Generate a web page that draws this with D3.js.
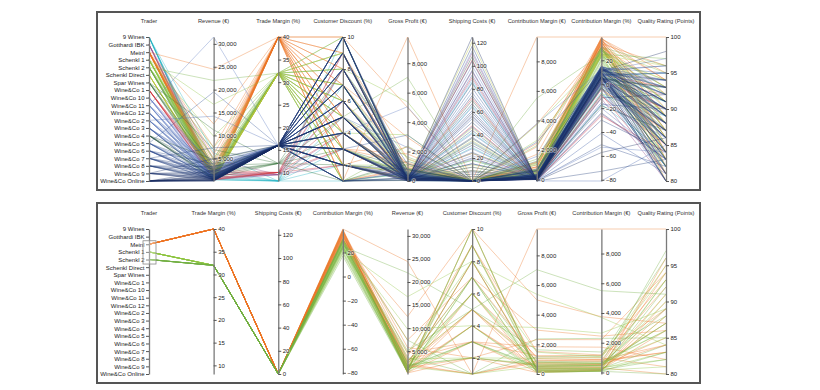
<!DOCTYPE html>
<html><head><meta charset="utf-8">
<script src="https://cdn.jsdelivr.net/npm/d3@7"></script>
<style>
body{margin:0;background:#fff;}
svg{display:block;font-family:"Liberation Sans",Arial,sans-serif;}
.axis text{font-size:6px;fill:#222;stroke:#fff;stroke-width:1.6px;stroke-opacity:.55;paint-order:stroke;}
.axis path{stroke:#7a7a7a;stroke-width:1.3px;}
.axis line{stroke:#555;}
.title{font-size:5.7px;fill:#333;text-anchor:middle;}
</style></head><body>
<svg id="chart" width="820" height="390"></svg>
<script>
// ---------- categories ----------
const traders = ["9 Wines","Gotthardi IBK","Meinl","Schenkl 1","Schenkl 2","Schenkl Direct","Spar Wines",
  "Wine&Co 1","Wine&Co 10","Wine&Co 11","Wine&Co 12","Wine&Co 2","Wine&Co 3","Wine&Co 4","Wine&Co 5",
  "Wine&Co 6","Wine&Co 7","Wine&Co 8","Wine&Co 9","Wine&Co Online"];
const traderColors = ["#1fb2c2","#8e3f86","#ec7424","#8dc43f","#72b043","#b7c63a","#2f6e34",
  "#cc2a36","#6d80c6","#5a78be","#4a68b2","#4f70b8","#3d5ca6","#23513d","#2f4f96",
  "#29468b","#233f80","#1f3976","#1b336c","#182d60"];
// trade margin (%) per trader
const traderMargin = [8.1,9.5,40,32,32,32,12,10,16,16,16,16,16,16,16,16,16,16,16,16];
const selectedTraders = ["Meinl","Schenkl 1","Schenkl 2"];

const dimTitles = {
  trader:"Trader", revenue:"Revenue (€)", tradeMargin:"Trade Margin (%)", discount:"Customer Discount (%)",
  grossProfit:"Gross Profit (€)", shipping:"Shipping Costs (€)", cmEur:"Contribution Margin (€)",
  cmPct:"Contribution Margin (%)", quality:"Quality Rating (Points)"
};
const topOrder = ["trader","revenue","tradeMargin","discount","grossProfit","shipping","cmEur","cmPct","quality"];
const bottomOrder = ["trader","tradeMargin","shipping","cmPct","revenue","discount","grossProfit","cmEur","quality"];

// ---------- records (one entry per sale), grouped by trader ----------
const rowTrader = [
  0,0,0,0,0,0,0,0, 1,1,1,1,1,1,
  2,2,2,2,2,2,2,2,2,2,2,2,2,2,2,2,2,2,2,2,2,2,2,2,
  3,3,3,3,3,3,3,3,3,3,3,3,3,3, 4,4,4,4,4,4,4,4,4,4,4,4,4,4,
  5,5,5,5,5,5,5,5, 6,6,6,6,6,6,6, 7,7,7,7,7,7,7,
  8,8,8,8,8,8,8, 9,9,9,9,9,9,9, 10,10,10,10,10,10,10, 11,11,11,11,11,11,11,
  12,12,12,12,12,12,12, 13,13,13,13,13,13,13, 14,14,14,14,14,14,14, 15,15,15,15,15,15,15,
  16,16,16,16,16,16,16, 17,17,17,17,17,17,17, 18,18,18,18,18,18,18,
  19,19,19,19,19,19,19,19,19,19,19,19,19,19];
const revenue = [
  420,1150,1900,2600,380,6200,760,240, 900,2150,310,4800,1500,560,
  2200,1400,3100,880,1650,420,2600,1150,3800,690,1900,260,4600,1250,530,2900,7400,980,1750,12500,340,2350,5800,24450,
  1600,950,2400,520,3300,1200,300,1850,4600,760,2100,9800,1350,16800,
  1900,700,2700,1100,3600,450,1450,5100,2500,880,7400,1650,22000,380,
  380,720,1250,260,540,950,180,610, 2200,3400,1300,6900,1800,11200,650, 420,1350,260,2400,780,1800,530,
  1400,640,2300,280,3500,950,520, 1700,410,4100,150,1100,31500,760, 1200,720,2100,330,2900,120,480,
  1550,560,3200,240,880,14200,1050, 2100,390,1150,180,2700,690,330, 1350,470,2450,210,4700,820,600,
  1850,530,2950,290,1050,19500,410, 1150,610,1950,160,3800,760,270, 1650,350,2650,230,1250,7300,820,
  1350,590,2250,140,3150,870,450, 2000,440,1500,200,4900,980,680,
  85,35,260,640,1400,180,2300,470,150,320,920,60,1150,540];
const discount = [
  3,5,2,7,10,1,4,8, 4,6,2,8,9,3,
  1,2,3,4,5,6,7,8,9,10,1,2,3,4,5,6,7,8,9,10,3,5,2,1,
  1,3,5,7,2,9,4,6,8,10,2,4,6,8, 2,4,6,8,1,10,3,5,7,9,1,3,5,7,
  2,5,3,7,4,6,9,1, 2,4,6,3,8,1,5, 3,6,9,2,5,4,8,
  2,5,8,4,1,10,6, 3,6,9,2,7,4,5, 1,4,10,8,5,3,7, 2,7,6,9,3,5,1,
  4,1,8,6,2,10,3, 5,3,7,1,9,4,2, 2,6,9,5,8,3,10, 3,10,5,7,1,4,9, 6,2,4,9,3,8,5,
  1,8,3,5,10,2,7, 5,4,7,3,2,9,6,
  6,2,8,3,10,4,5,1,7,9,2,5,3,10];
const grossProfit = [
  34,93,154,211,31,502,62,19, 86,204,29,456,143,53,
  880,560,1240,352,660,168,1040,460,1520,276,760,104,1840,500,212,1160,2960,392,700,5000,136,940,2320,9780,
  512,304,768,166,1056,384,96,592,1472,243,672,3136,432,5376,
  608,224,864,352,1152,144,464,1632,800,282,2368,528,7040,122,
  122,230,400,83,173,304,58,195, 264,408,156,828,216,1344,78, 42,135,26,240,78,180,53,
  224,102,368,45,560,152,83, 272,66,656,24,176,5040,122, 192,115,336,53,464,19,77,
  248,90,512,38,141,2272,168, 336,62,184,29,432,110,53, 216,75,392,34,752,131,96,
  296,85,472,46,168,3120,66, 184,98,312,26,608,122,43, 264,56,424,37,200,1168,131,
  216,94,360,22,504,139,72, 320,70,240,32,784,157,109,
  14,0,42,102,224,29,368,75,24,51,147,10,184,86];
const shipping = [
  0,18,0,42,65,0,86,29, 0,24,95,0,0,111,
  0,0,0,0,0,0,0,0,0,0,0,0,0,0,0,0,0,0,0,0,0,0,0,0,
  0,0,0,0,0,0,0,0,0,0,0,0,0,0, 0,0,0,0,0,0,0,0,0,0,0,0,0,0,
  12,18,24,35,9,14,46,121, 0,0,0,0,0,0,33, 48,0,72,0,105,0,90,
  0,22,0,57,0,88,0, 0,34,0,100,15,0,0, 0,41,0,77,0,113,0, 0,28,0,64,19,0,0,
  0,47,0,92,0,54,0, 0,37,0,70,0,108,0, 0,25,0,81,12,0,0, 0,31,0,96,0,61,0,
  0,44,0,85,9,0,0, 0,51,0,117,0,67,0, 0,38,0,74,0,104,0,
  4,0,20,56,0,125,0,59,8,0,15,6,0,0];
const cmEur = [
  21,22,116,0,-65,440,-52,-22, 50,56,-78,72,8,-67,
  858,532,1147,317,578,143,858,368,1178,207,741,99,1702,450,186,986,2442,314,543,3750,126,823,2204,9650,
  480,266,624,125,990,252,84,463,1058,144,609,2646,338,3696,
  570,196,702,264,1116,77,421,1377,625,176,2294,479,5500,87,
  102,176,338,30,142,233,-5,-49, 220,272,78,621,72,1232,-10, -19,54,-69,192,-66,108,-53,
  196,48,184,-23,525,-31,52, 221,7,287,-79,86,3780,84, 180,45,126,-50,319,-97,43,
  217,23,320,-48,96,1562,158, 252,11,92,-74,378,-13,43, 149,24,221,-38,329,-20,84,
  259,28,207,-49,72,2535,25, 150,6,215,-81,570,31,19, 165,5,318,-69,154,584,90,
  203,-4,293,-102,189,55,41, 220,14,135,-48,686,-35,68,
  5,-4,1,27,84,-103,253,11,7,22,115,-2,150,32];
const cmPct = [
  5.0,1.9,6.1,0.0,-17.0,7.1,-6.8,-9.0, 5.5,2.6,-25.0,1.5,0.5,-12.0,
  39,38,37,36,35,34,33,32,31,30,39,38,37,36,35,34,33,32,31,30,37,35,38,39.5,
  30,28,26,24,30,21,28,25,23,19,29,27,25,22,
  30,28,26,24,31,17,29,27,25,20,31,29,25,23,
  26.8,24.4,27.0,11.5,26.3,24.5,-3.0,-8.0, 10,8,6,9,4,11,-1.5, -4.5,4.0,-26.5,8.0,-8.5,6.0,-10.0,
  14.0,7.5,8.0,-8.2,15.0,-3.3,10.0, 13.0,1.7,7.0,-52.7,7.8,12.0,11.0, 15.0,6.3,6.0,-15.2,11.0,-81.0,9.0,
  14.0,4.1,10.0,-20.0,10.9,11.0,15.0, 12.0,2.8,8.0,-41.1,14.0,-1.9,13.0, 11.0,5.1,9.0,-18.1,7.0,-2.4,14.0,
  14.0,5.3,7.0,-16.9,6.9,13.0,6.0, 13.0,1.0,11.0,-50.6,15.0,4.1,7.0, 10.0,1.4,12.0,-30.0,12.3,8.0,11.0,
  15.0,-0.7,13.0,-72.9,6.0,6.3,9.0, 11.0,3.2,9.0,-24.0,14.0,-3.6,10.0,
  5.9,-11.4,0.4,4.2,6.0,-57.2,11.0,2.3,4.5,7.0,12.5,-3.0,13.0,6.0];
const quality = [
  88,91,85,93,84,95,82,89, 86,90,83,92,88,80,
  92,95,89,94,87,96,84,91,93,86,83,90,82,85,88,81,86,80,84,87,89,83,94,100,
  90,93,85,88,95,83,91,87,94,81,86,89,82,84,
  89,92,86,84,96,80,93,88,97,82,85,87,91,83,
  91,94,89,87,92,96,85,90, 85,88,83,90,86,92,87, 87,90,84,93,81,88,85,
  91,86,94,83,89,80,85, 92,87,95,84,90,96,82, 93,88,82,86,91,85,89,
  90,94,87,83,89,97,84, 92,85,88,81,95,86,90, 89,93,84,87,91,82,88,
  94,88,83,90,86,93,80, 91,85,96,82,89,87,84, 90,86,93,84,88,95,81,
  92,87,90,83,85,81,94, 94,89,86,83,91,88,82,
  90,92,87,93,84,86,98,80,85,83,89,81,91,80];

const rows = rowTrader.map((t,i)=>({
  ti:t, trader:traders[t], revenue:revenue[i], tradeMargin:traderMargin[t], discount:discount[i],
  grossProfit:grossProfit[i], shipping:shipping[i], cmEur:cmEur[i], cmPct:cmPct[i], quality:quality[i]
}));

// ---------- drawing ----------
const svg = d3.select("#chart");
const xRange = [149, 666];

const panels = [
  {order: topOrder, frame:[97,12,603,178], yTop:37, yBot:181, titleY:23, data: rows, brush:false},
  {order: bottomOrder, frame:[97,203,603,180], yTop:229, yBot:374, titleY:215,
   data: rows.filter(r=>selectedTraders.includes(r.trader)), brush:true}
];

panels.forEach(p=>{
  const g = svg.append("g");
  g.append("rect").attr("x",p.frame[0]).attr("y",p.frame[1]).attr("width",p.frame[2]).attr("height",p.frame[3])
    .attr("fill","#fff").attr("stroke","#555").attr("stroke-width",2);

  const x = d3.scalePoint().domain(p.order).range(xRange);
  const y = {};
  p.order.forEach(k=>{
    if(k==="trader") y[k] = d3.scalePoint().domain(traders).range([p.yTop,p.yBot]);
    else y[k] = d3.scaleLinear().domain(d3.extent(rows,d=>d[k])).range([p.yBot,p.yTop]);
  });
  const line = d3.line();

  g.append("g").attr("fill","none")
    .selectAll("path").data(p.data).join("path")
    .attr("d", d=>line(p.order.map(k=>[x(k), y[k](d[k])])))
    .attr("stroke", d=>traderColors[d.ti])
    .attr("stroke-opacity", 0.36)
    .attr("stroke-width", 1)
    .attr("stroke-linejoin","round");

  p.order.forEach(k=>{
    const ag = g.append("g").attr("class","axis").attr("transform",`translate(${x(k)},0)`);
    if(k==="trader") ag.call(d3.axisLeft(y[k]).tickSize(3).tickSizeOuter(0).tickPadding(1.5));
    else ag.call(d3.axisRight(y[k]).ticks(5).tickSize(3).tickSizeOuter(0).tickPadding(1.5));
    g.append("text").attr("class","title").attr("x",x(k)).attr("y",p.titleY).text(dimTitles[k]);
  });

  if(p.brush){
    const yt = y.trader;
    g.append("rect").attr("x",x("trader")-6).attr("y",yt(selectedTraders[0])-3.5)
      .attr("width",13).attr("height",yt(selectedTraders[selectedTraders.length-1])-yt(selectedTraders[0])+8)
      .attr("fill","#fff").attr("fill-opacity",0.3).attr("stroke","#8a8a8a").attr("stroke-width",0.8);
  }
});
</script>
</body></html>
